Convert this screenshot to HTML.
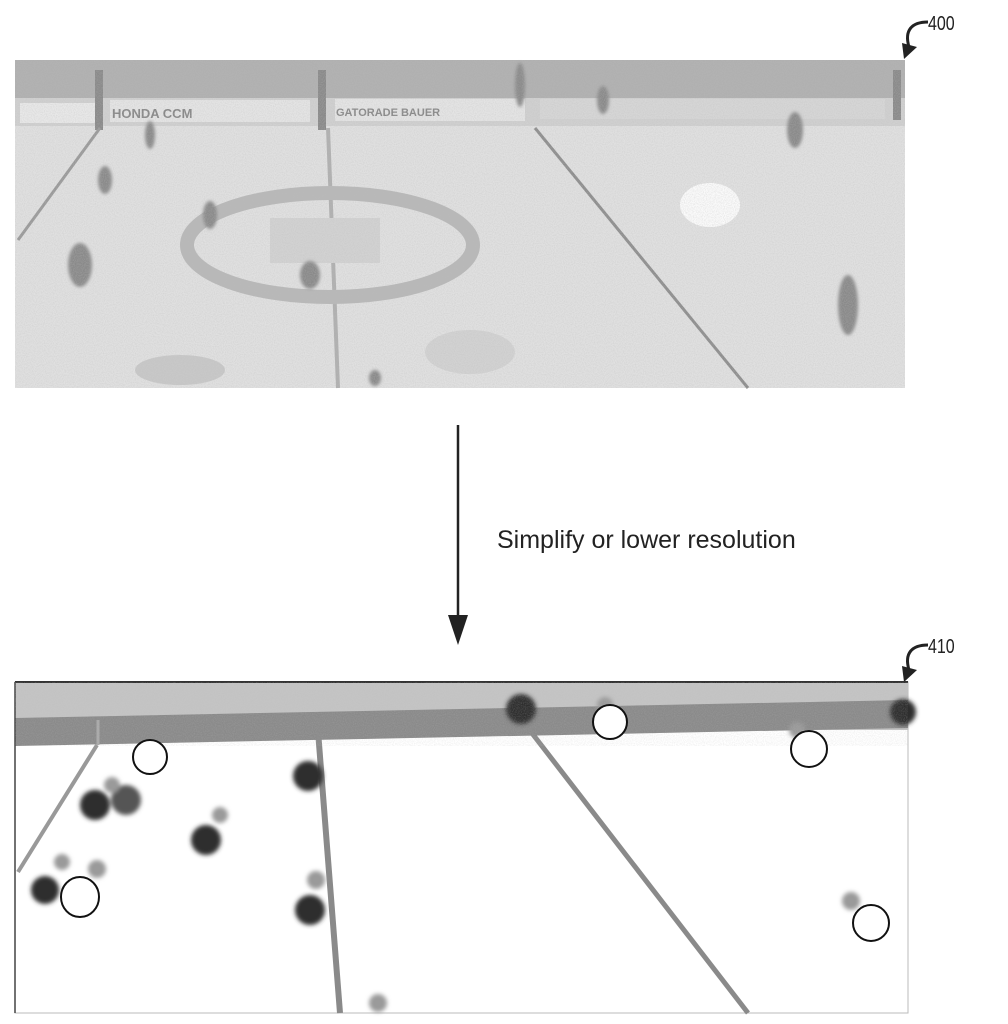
<!DOCTYPE html>
<html><head><meta charset="utf-8"><style>
html,body{margin:0;padding:0;background:#fff;width:1008px;height:1024px;overflow:hidden}
</style></head><body>
<svg width="1008" height="1024" viewBox="0 0 1008 1024" xmlns="http://www.w3.org/2000/svg">
<defs>
<filter id="n" x="0" y="0" width="100%" height="100%">
<feTurbulence type="fractalNoise" baseFrequency="0.9" numOctaves="1" seed="3"/>
<feColorMatrix values="0 0 0 0 0.5 0 0 0 0 0.5 0 0 0 0 0.5 0 0 0 -1.4 0.9"/>
</filter>
<filter id="b"><feGaussianBlur stdDeviation="2"/></filter>
<filter id="b1"><feGaussianBlur stdDeviation="1.5"/></filter>
</defs>
<!-- top image -->
<rect x="15" y="60" width="890" height="328" fill="#e0e0e0"/>
<rect x="15" y="60" width="890" height="38" fill="#b0b0b0"/>
<rect x="15" y="98" width="890" height="28" fill="#d0d0d0"/>
<rect x="20" y="103" width="75" height="20" fill="#e8e8e8"/>
<rect x="110" y="100" width="200" height="22" fill="#e4e4e4"/>
<rect x="335" y="99" width="190" height="22" fill="#e4e4e4"/>
<rect x="540" y="99" width="345" height="20" fill="#d6d6d6"/>
<text x="112" y="118" font-family="Liberation Sans,sans-serif" font-size="13" fill="#888" font-weight="bold">HONDA  CCM</text>
<text x="336" y="116" font-family="Liberation Sans,sans-serif" font-size="11" fill="#888" font-weight="bold">GATORADE  BAUER</text>
<rect x="95" y="70" width="8" height="60" fill="#8a8a8a"/>
<rect x="318" y="70" width="8" height="60" fill="#8a8a8a"/>
<rect x="893" y="70" width="8" height="50" fill="#8a8a8a"/>
<line x1="100" y1="128" x2="18" y2="240" stroke="#9a9a9a" stroke-width="3"/>
<line x1="328" y1="128" x2="338" y2="388" stroke="#b0b0b0" stroke-width="4"/>
<line x1="535" y1="128" x2="748" y2="388" stroke="#8e8e8e" stroke-width="3"/>
<ellipse cx="330" cy="245" rx="143" ry="52" fill="none" stroke="#b8b8b8" stroke-width="14"/>
<rect x="270" y="218" width="110" height="45" fill="#d2d2d2"/>
<ellipse cx="710" cy="205" rx="30" ry="22" fill="#fafafa"/>
<ellipse cx="180" cy="370" rx="45" ry="15" fill="#c8c8c8"/>
<ellipse cx="470" cy="352" rx="45" ry="22" fill="#d2d2d2"/>
<g fill="#8a8a8a" filter="url(#b1)">
<ellipse cx="150" cy="135" rx="5" ry="14"/><ellipse cx="105" cy="180" rx="7" ry="14"/>
<ellipse cx="210" cy="215" rx="7" ry="14"/><ellipse cx="80" cy="265" rx="12" ry="22"/>
<ellipse cx="310" cy="275" rx="10" ry="14"/><ellipse cx="795" cy="130" rx="8" ry="18"/>
<ellipse cx="848" cy="305" rx="10" ry="30"/><ellipse cx="375" cy="378" rx="6" ry="8"/>
<ellipse cx="520" cy="85" rx="5" ry="22"/><ellipse cx="603" cy="100" rx="6" ry="14"/>
</g>
<rect x="15" y="60" width="890" height="328" filter="url(#n)" opacity="0.5"/>
<!-- label 400 -->
<text x="928" y="30" font-family="Liberation Sans,sans-serif" font-size="20" fill="#222" transform="translate(928,30) scale(0.8,1) translate(-928,-30)">400</text>
<path d="M928 22 C912 22 904 30 909 47" fill="none" stroke="#222" stroke-width="3"/>
<path d="M904 59 L902 43 L917 47 Z" fill="#222"/>
<!-- arrow -->
<line x1="458" y1="425" x2="458" y2="625" stroke="#222" stroke-width="2.5"/>
<path d="M448 615 L468 615 L458 645 Z" fill="#222"/>
<text x="497" y="548" font-family="Liberation Sans,sans-serif" font-size="25" fill="#222">Simplify or lower resolution</text>
<!-- label 410 -->
<text x="928" y="653" font-family="Liberation Sans,sans-serif" font-size="20" fill="#222" transform="translate(928,653) scale(0.8,1) translate(-928,-653)">410</text>
<path d="M928 645 C912 645 904 653 909 670" fill="none" stroke="#222" stroke-width="3"/>
<path d="M904 682 L902 666 L917 670 Z" fill="#222"/>
<!-- bottom image -->
<rect x="15" y="682" width="893" height="331" fill="#fff" stroke="#bbb" stroke-width="1"/>
<rect x="15" y="682" width="893" height="48" fill="#c4c4c4"/>
<path d="M15 718 L908 700 L908 728 L15 746 Z" fill="#8a8a8a"/>
<path d="M15 682 L908 682" stroke="#333" stroke-width="2"/>
<path d="M15 682 L15 1013" stroke="#444" stroke-width="1.5"/>
<line x1="98" y1="720" x2="98" y2="745" stroke="#aaa" stroke-width="3"/>
<line x1="97" y1="745" x2="18" y2="872" stroke="#999" stroke-width="4"/>
<line x1="317" y1="718" x2="340" y2="1013" stroke="#8a8a8a" stroke-width="6"/>
<line x1="528" y1="728" x2="748" y2="1013" stroke="#8a8a8a" stroke-width="5"/>
<g filter="url(#b)">
<g fill="#2e2e2e">
<circle cx="521" cy="709" r="15"/><circle cx="903" cy="712" r="13"/>
<circle cx="308" cy="776" r="15"/><circle cx="95" cy="805" r="15"/>
<circle cx="206" cy="840" r="15"/><circle cx="45" cy="890" r="14"/>
<circle cx="310" cy="910" r="15"/>
</g>
<circle cx="126" cy="800" r="15" fill="#555"/>
<g fill="#9a9a9a">
<circle cx="220" cy="815" r="8"/><circle cx="62" cy="862" r="8"/><circle cx="97" cy="869" r="9"/>
<circle cx="316" cy="880" r="9"/><circle cx="851" cy="901" r="9"/><circle cx="378" cy="1003" r="9"/>
<circle cx="797" cy="730" r="8"/><circle cx="605" cy="705" r="8"/><circle cx="112" cy="785" r="8"/>
</g>
</g>
<rect x="15" y="682" width="893" height="64" filter="url(#n)" opacity="0.35"/>
<g fill="#fff" stroke="#111" stroke-width="2">
<ellipse cx="150" cy="757" rx="17" ry="17"/>
<ellipse cx="610" cy="722" rx="17" ry="17"/>
<ellipse cx="809" cy="749" rx="18" ry="18"/>
<ellipse cx="80" cy="897" rx="19" ry="20"/>
<ellipse cx="871" cy="923" rx="18" ry="18"/>
</g>
</svg>
</body></html>
